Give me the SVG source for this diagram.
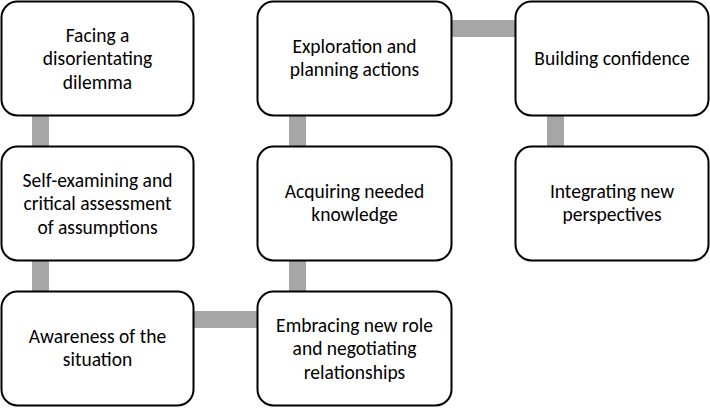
<svg xmlns="http://www.w3.org/2000/svg" width="710" height="408" viewBox="0 0 710 408">
<style>
.box{fill:#fff;stroke:#000;stroke-width:2}
.lbl{font-family:Carlito,Lato,"Open Sans",sans-serif;font-size:19.5px;fill:#000;text-anchor:middle}
.con{fill:#a6a6a6}
</style>
<rect width="710" height="408" fill="#fff"/>
<g id="connectors">
<rect class="con" x="32" y="116" width="17" height="30"/>
<rect class="con" x="32" y="261" width="17" height="30"/>
<rect class="con" x="194" y="311" width="63" height="17"/>
<rect class="con" x="289" y="261" width="17" height="30"/>
<rect class="con" x="289" y="116" width="17" height="30"/>
<rect class="con" x="452" y="20" width="63" height="17"/>
<rect class="con" x="547" y="116" width="17" height="30"/>
</g>
<g id="n1"><rect class="box" x="1.5" y="1.5" width="192" height="114" rx="16"/>
<text class="lbl"><tspan x="97.5" y="41.5">Facing a</tspan><tspan x="97.5" y="65">disorientating</tspan><tspan x="97.5" y="88.5">dilemma</tspan></text></g>
<g id="n2"><rect class="box" x="1.5" y="146.5" width="192" height="114" rx="16"/>
<text class="lbl"><tspan x="97.5" y="186.5">Self-examining and</tspan><tspan x="97.5" y="210">critical assessment</tspan><tspan x="97.5" y="233.5">of assumptions</tspan></text></g>
<g id="n3"><rect class="box" x="1.5" y="291.5" width="192" height="114" rx="16"/>
<text class="lbl"><tspan x="97.5" y="342.8">Awareness of the</tspan><tspan x="97.5" y="366.3">situation</tspan></text></g>
<g id="n4"><rect class="box" x="257.5" y="291.5" width="194" height="114" rx="16"/>
<text class="lbl"><tspan x="354.5" y="331.5">Embracing new role</tspan><tspan x="354.5" y="355">and negotiating</tspan><tspan x="354.5" y="378.5">relationships</tspan></text></g>
<g id="n5"><rect class="box" x="257.5" y="146.5" width="194" height="114" rx="16"/>
<text class="lbl"><tspan x="354.5" y="197.8">Acquiring needed</tspan><tspan x="354.5" y="221.3">knowledge</tspan></text></g>
<g id="n6"><rect class="box" x="257.5" y="1.5" width="194" height="114" rx="16"/>
<text class="lbl"><tspan x="354.5" y="52.8">Exploration and</tspan><tspan x="354.5" y="76.3">planning actions</tspan></text></g>
<g id="n7"><rect class="box" x="515.5" y="1.5" width="193" height="114" rx="16"/>
<text class="lbl"><tspan x="612" y="65">Building confidence</tspan></text></g>
<g id="n8"><rect class="box" x="515.5" y="146.5" width="193" height="114" rx="16"/>
<text class="lbl"><tspan x="612" y="197.8">Integrating new</tspan><tspan x="612" y="221.3">perspectives</tspan></text></g>
</svg>
